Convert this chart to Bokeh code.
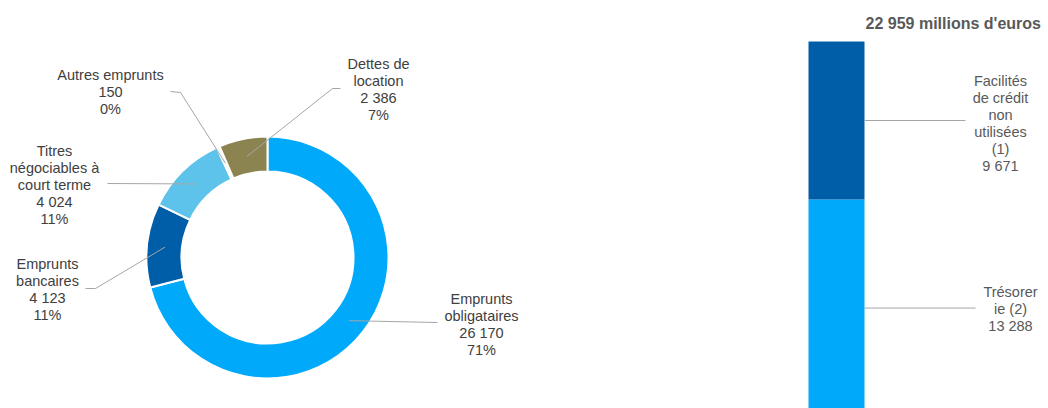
import math
from bokeh.plotting import figure
from bokeh.models import Range1d
from bokeh.embed import file_html
from bokeh.resources import INLINE
from bokeh.core.properties import value

# ---------------- data ----------------
categories = ["Emprunts obligataires", "Emprunts bancaires",
              "Titres négociables à court terme", "Autres emprunts",
              "Dettes de location"]
amounts = [26170, 4123, 4024, 150, 2386]
pct_labels = ["71%", "11%", "11%", "0%", "7%"]
label_lines = [["Emprunts", "obligataires"], ["Emprunts", "bancaires"],
               ["Titres", "négociables à", "court terme"], ["Autres emprunts"],
               ["Dettes de", "location"]]

bar_categories = ["Trésorerie (2)", "Facilités de crédit non utilisées (1)"]
bar_amounts = [13288, 9671]
bar_label_lines = [["Trésorer", "ie (2)"],
                   ["Facilités", "de crédit", "non", "utilisées", "(1)"]]
title_suffix = "millions  d'euros"

# ---------------- styles / layout ----------------
W, H = 1048, 408
FONT = "Liberation Sans"
FS = "14.5px"
LH = 17
slice_colors = ["#00A9FA", "#005DA8", "#5DC3EA", "#F2F2F2", "#8C8450"]
bar_colors = ["#00A9FA", "#005DA8"]
lead_color = "#A6A6A6"


def sx(x):
    return x


def sy(y):
    return H - y


def fmt(v):
    return f"{v:,}".replace(",", " ")


p = figure(width=W, height=H, x_range=Range1d(0, W), y_range=Range1d(0, H),
           output_backend="svg", toolbar_location=None, min_border=0,
           x_axis_location=None, y_axis_location=None)
p.grid.visible = False
p.outline_line_color = None
p.background_fill_color = "white"

# ---------------- donut ----------------
cx, cy = sx(267), sy(257)
r_out, r_in = 121, 86
total = sum(amounts)
starts, ends, mids = [], [], []
cum = 0.0
for v in amounts:
    a0 = cum / total
    cum += v
    a1 = cum / total
    starts.append(math.pi / 2 - 2 * math.pi * a0)
    ends.append(math.pi / 2 - 2 * math.pi * a1)
    mids.append(2 * math.pi * (a0 + a1) / 2)

p.annular_wedge(x=cx, y=cy, inner_radius=r_in, outer_radius=r_out,
                start_angle=starts, end_angle=ends, direction="clock",
                fill_color=slice_colors, line_color="white", line_width=2)

# leader lines
anchors = [[(437, 322)], [(85, 288), (95, 288)], [(107, 183)],
           [(170, 91), (180, 92)], [(340, 88), (332, 88)]]
xs, ys = [], []
for anc, m in zip(anchors, mids):
    px = [sx(a[0]) for a in anc] + [cx + 103 * math.sin(m)]
    py = [sy(a[1]) for a in anc] + [cy + 103 * math.cos(m)]
    xs.append(px)
    ys.append(py)
p.multi_line(xs=xs, ys=ys, line_color=lead_color, line_width=1)

# labels
label_pos = [(481, 298), (47, 263.5), (54, 150.5), (110, 74.5), (378, 63)]
for lines, v, pc, (lx, ly) in zip(label_lines, amounts, pct_labels, label_pos):
    all_lines = lines + [fmt(v), pc]
    p.text(x=[sx(lx)] * len(all_lines),
           y=[sy(ly + LH * i) for i in range(len(all_lines))],
           text=all_lines, text_font=value(FONT), text_font_size=FS,
           text_color="#404040", text_align="center", text_baseline="middle")

# ---------------- stacked bar ----------------
bar_top_s, bar_split_s = 41, 199
k = (bar_split_s - bar_top_s) / bar_amounts[1]
bar_total = sum(bar_amounts)
top_fig = sy(bar_top_s)
start = bar_total - top_fig / k
p.extra_y_ranges = {"bar": Range1d(start, start + H / k)}

bottoms, tops = [], []
c = 0
for v in bar_amounts:
    bottoms.append(c)
    c += v
    tops.append(c)
bx_left, bx_right = sx(808), sx(864)
p.vbar(x=(bx_left + bx_right) / 2, width=bx_right - bx_left, bottom=bottoms,
       top=tops, fill_color=bar_colors, line_color=None, y_range_name="bar")

bar_mids = [(b + t) / 2 for b, t in zip(bottoms, tops)]
lead_ends = [sx(975), sx(965)]
p.segment(x0=[bx_right] * 2, x1=lead_ends, y0=bar_mids, y1=bar_mids,
          line_color=lead_color, line_width=1, y_range_name="bar")

bar_label_x = [1010, 1000]
bar_label_adj = [0.5, 2.5]
for lines, v, m, lx, adj in zip(bar_label_lines, bar_amounts, bar_mids,
                                bar_label_x, bar_label_adj):
    all_lines = lines + [fmt(v)]
    n = len(all_lines)
    for i, t in enumerate(all_lines):
        p.text(x=[sx(lx)], y=[m], text=[t], y_offset=(i - (n - 1) / 2) * LH + adj,
               text_font=value(FONT), text_font_size=FS,
               text_color="#595959", text_align="center",
               text_baseline="middle", y_range_name="bar")

p.text(x=[sx(955)], y=[sy(22.5)], text=[f"{fmt(bar_total)} {title_suffix}"],
       text_font=value(FONT), text_font_size="16px", text_font_style="bold",
       text_color="#595959", text_align="center", text_baseline="middle")

open("out.html", "w").write(file_html(p, INLINE))
